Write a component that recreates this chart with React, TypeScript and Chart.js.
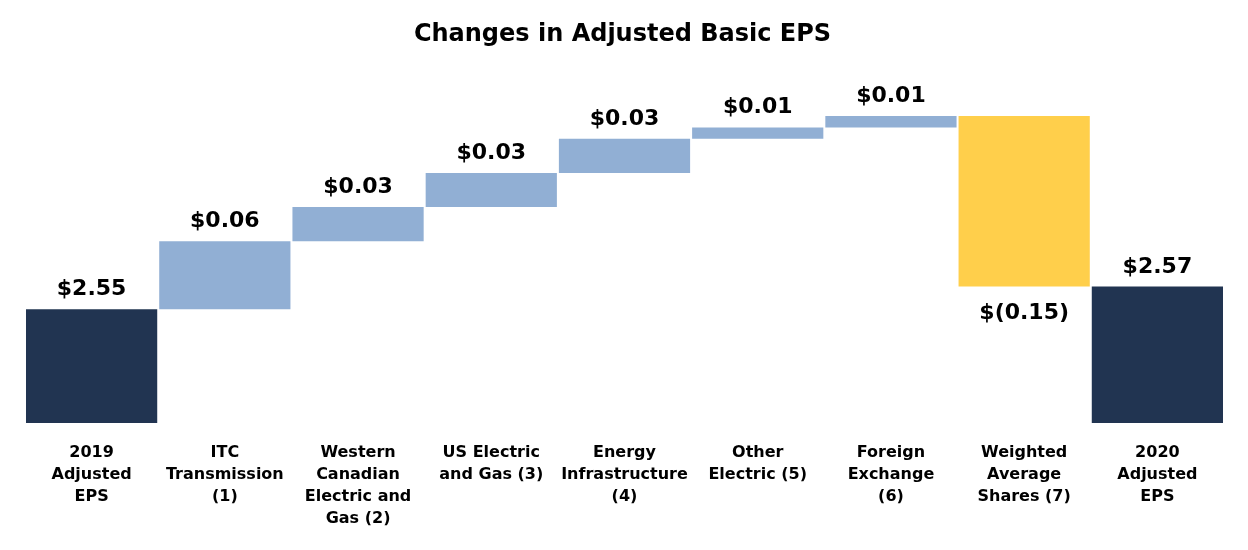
import React, { useEffect, useRef } from "react";
import { Chart, registerables } from "chart.js";

Chart.register(...registerables);

const TITLE = "Changes in Adjusted Basic EPS";
const CATEGORIES: string[][] = [
  ["2019", "Adjusted", "EPS"],
  ["ITC", "Transmission", "(1)"],
  ["Western", "Canadian", "Electric and", "Gas (2)"],
  ["US Electric", "and Gas (3)"],
  ["Energy", "Infrastructure", "(4)"],
  ["Other", "Electric (5)"],
  ["Foreign", "Exchange", "(6)"],
  ["Weighted", "Average", "Shares (7)"],
  ["2020", "Adjusted", "EPS"],
];
const START_EPS = 2.55;
const CHANGES = [0.06, 0.03, 0.03, 0.03, 0.01, 0.01, -0.15];
const END_EPS = 2.57;
const Y_MIN = 2.45;
const Y_MAX = 2.75;

const NAVY = "#213451";
const LIGHT_BLUE = "#91AFD4";
const YELLOW = "#FFCF4B";
const FONT = "'DejaVu Sans', Verdana, sans-serif";

function fmt(v: number): string {
  const a = Math.abs(v).toFixed(2);
  return v < 0 ? `$(${a})` : `$${a}`;
}

export default function App() {
  const ref = useRef<HTMLCanvasElement | null>(null);

  useEffect(() => {
    if (!ref.current) return;
    const ranges: [number, number][] = [];
    const colors: string[] = [];
    const values: number[] = [];
    ranges.push([Y_MIN, START_EPS]);
    colors.push(NAVY);
    values.push(START_EPS);
    let run = START_EPS;
    CHANGES.forEach((c) => {
      const next = run + c;
      ranges.push([Math.min(run, next), Math.max(run, next)]);
      colors.push(c < 0 ? YELLOW : LIGHT_BLUE);
      values.push(c);
      run = next;
    });
    ranges.push([Y_MIN, END_EPS]);
    colors.push(NAVY);
    values.push(END_EPS);

    const labelPlugin = {
      id: "wfLabels",
      afterDatasetsDraw(chart: any) {
        const ctx = chart.ctx;
        const meta = chart.getDatasetMeta(0);
        const yScale = chart.scales.y;
        ctx.save();
        ctx.fillStyle = "#000";
        ctx.font = `bold 22px ${FONT}`;
        ctx.textAlign = "center";
        ctx.textBaseline = "alphabetic";
        meta.data.forEach((bar: any, i: number) => {
          const v = values[i];
          const r = ranges[i];
          if (v < 0) {
            const yb = yScale.getPixelForValue(r[0]);
            ctx.fillText(fmt(v), bar.x, yb + 32);
          } else {
            const yt = yScale.getPixelForValue(r[1]);
            ctx.fillText(fmt(v), bar.x, yt - 14);
          }
        });
        // title
        ctx.font = `bold 24px ${FONT}`;
        ctx.fillText(TITLE, chart.width / 2 - 1.5, 33);
        ctx.restore();
      },
    };

    const chart = new Chart(ref.current, {
      type: "bar",
      data: {
        labels: CATEGORIES,
        datasets: [
          {
            data: ranges as any,
            backgroundColor: colors,
            borderWidth: 0,
            barPercentage: 0.985,
            categoryPercentage: 1,
          },
        ],
      },
      options: {
        animation: false,
        responsive: true,
        maintainAspectRatio: false,
        layout: { padding: { left: 17, right: 16, top: 74, bottom: 0 } },
        plugins: {
          legend: { display: false },
          tooltip: { enabled: false },
          title: { display: false },
        },
        scales: {
          x: {
            grid: { display: false, drawTicks: false },
            border: { display: false },
            ticks: {
              color: "#000",
              font: { family: FONT, size: 16, weight: "bold", lineHeight: 1.375 },
              padding: 19,
              maxRotation: 0,
              minRotation: 0,
              autoSkip: false,
            },
          },
          y: {
            display: false,
            min: Y_MIN,
            max: Y_MAX,
          },
        },
      },
      plugins: [labelPlugin],
    });
    return () => chart.destroy();
  }, []);

  return (
    <div style={{ width: 1232, height: 541, position: "relative" }}>
      <canvas ref={ref} />
    </div>
  );
}
